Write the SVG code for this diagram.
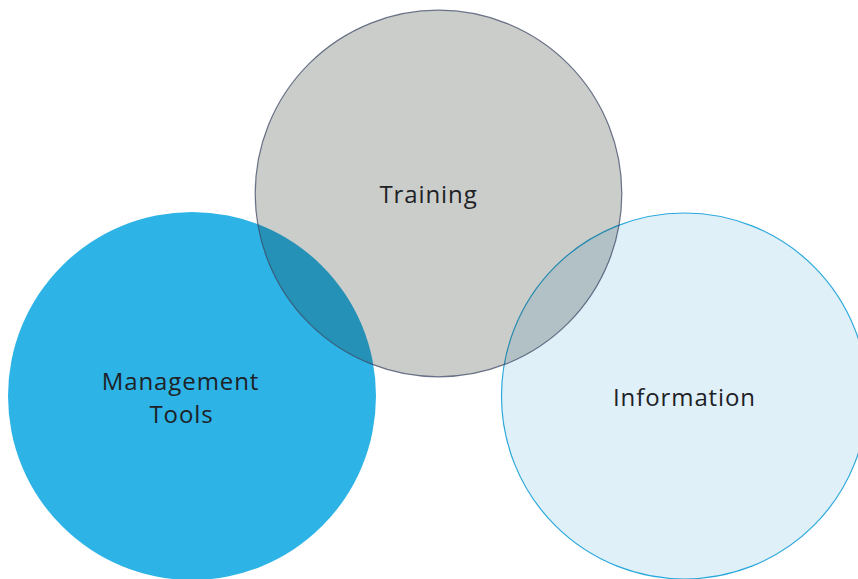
<svg xmlns="http://www.w3.org/2000/svg" width="858" height="579" viewBox="0 0 858 579">
<style>
.lbl{font-family:"Open Sans","Noto Sans","DejaVu Sans",sans-serif;font-size:24px;letter-spacing:0.9px;fill:#1e2226;text-anchor:middle}
</style>
<rect width="858" height="579" fill="#ffffff"/>
<g id="management">
<circle cx="192" cy="396" r="184" fill="#2db3e6"/>
<text class="lbl" x="180.5" y="390">Management</text>
<text class="lbl" x="181.5" y="423">Tools</text>
</g>
<g id="information">
<circle cx="684.5" cy="396" r="183" fill="#dff0f9" stroke="#2aa8dc" stroke-width="1.2"/>
<text class="lbl" x="684.5" y="406">Information</text>
</g>
<g id="training">
<circle cx="438.5" cy="193.5" r="183.3" fill="rgb(8,18,6)" fill-opacity="0.21" stroke="#3e4a66" stroke-opacity="0.75" stroke-width="1.2"/>
<text class="lbl" x="428.5" y="203">Training</text>
</g>
<g id="connectors"/>
</svg>
